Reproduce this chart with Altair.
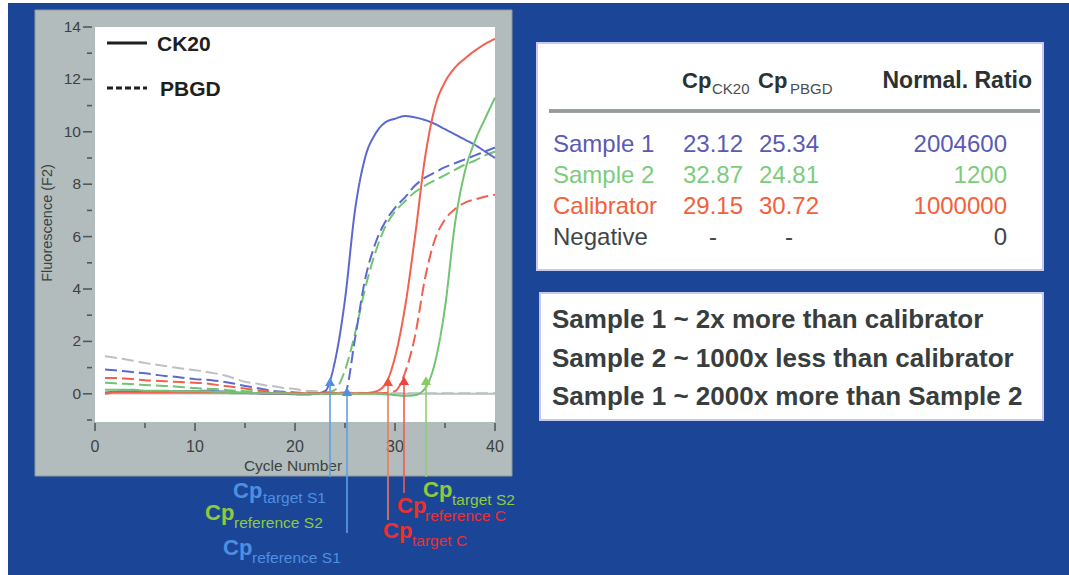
import altair as alt
import pandas as pd

# ---------------- data ----------------
cycles = list(range(1, 41))

s1_ck20 = [0.05, 0.08, 0.10, 0.10, 0.10, 0.10, 0.10, 0.10, 0.10, 0.10,
           0.12, 0.10, 0.08, 0.05, 0.03, 0.02, 0.00, 0.00, 0.00, -0.02,
           -0.03, 0.00, 0.10, 1.25, 3.60, 7.00, 9.00, 9.90, 10.35, 10.50,
           10.60, 10.55, 10.45, 10.30, 10.10, 9.90, 9.70, 9.50, 9.25, 9.00]
s1_pbgd = [0.93, 0.90, 0.86, 0.82, 0.78, 0.73, 0.68, 0.65, 0.60, 0.56,
           0.54, 0.50, 0.45, 0.38, 0.30, 0.24, 0.16, 0.10, 0.07, 0.05,
           0.03, 0.01, 0.00, 0.00, 0.05, 2.10, 4.35, 5.70, 6.55, 7.10,
           7.50, 7.95, 8.25, 8.45, 8.65, 8.80, 8.95, 9.10, 9.25, 9.40]
s2_ck20 = [0.15, 0.15, 0.15, 0.15, 0.12, 0.12, 0.12, 0.10, 0.10, 0.10,
           0.10, 0.08, 0.08, 0.05, 0.05, 0.03, 0.02, 0.02, 0.02, 0.00,
           0.00, 0.00, 0.00, 0.00, 0.00, 0.00, 0.00, 0.00, -0.02, -0.05,
           -0.08, -0.05, 0.20, 1.20, 3.30, 6.50, 8.50, 9.65, 10.50, 11.30]
s2_pbgd = [0.42, 0.40, 0.38, 0.36, 0.34, 0.32, 0.30, 0.28, 0.25, 0.22,
           0.20, 0.18, 0.15, 0.12, 0.10, 0.08, 0.05, 0.03, 0.02, 0.00,
           0.00, 0.00, 0.03, 0.15, 0.90, 2.30, 4.00, 5.35, 6.35, 6.95,
           7.35, 7.70, 7.95, 8.15, 8.35, 8.55, 8.75, 8.90, 9.10, 9.25]
cal_ck20 = [0.00, 0.05, 0.05, 0.05, 0.05, 0.05, 0.05, 0.05, 0.05, 0.05,
            0.05, 0.05, 0.05, 0.04, 0.03, 0.03, 0.02, 0.02, 0.02, 0.02,
            0.02, 0.02, 0.02, 0.02, 0.02, 0.02, 0.03, 0.08, 0.35, 1.40,
            3.30, 6.00, 9.00, 10.95, 11.90, 12.45, 12.80, 13.10, 13.35, 13.55]
cal_pbgd = [0.60, 0.60, 0.58, 0.55, 0.52, 0.50, 0.48, 0.46, 0.44, 0.42,
            0.40, 0.35, 0.30, 0.25, 0.20, 0.15, 0.10, 0.08, 0.05, 0.03,
            0.02, 0.02, 0.02, 0.02, 0.02, 0.02, 0.02, 0.02, 0.03, 0.10,
            0.80, 2.20, 4.40, 5.90, 6.65, 7.05, 7.30, 7.42, 7.52, 7.60]
neg_ck20 = [0.00, 0.01, 0.01, 0.01, 0.01, 0.01, 0.01, 0.01, 0.01, 0.01,
            0.01, 0.01, 0.01, 0.00, 0.00, 0.00, 0.00, 0.00, 0.00, 0.00,
            0.00, 0.00, 0.00, 0.00, 0.00, 0.00, 0.00, 0.00, 0.00, 0.00,
            0.00, 0.00, 0.00, 0.00, 0.00, 0.00, 0.00, 0.00, 0.00, 0.00]
neg_pbgd = [1.43, 1.38, 1.32, 1.25, 1.18, 1.12, 1.06, 1.00, 0.95, 0.90,
            0.85, 0.78, 0.70, 0.58, 0.46, 0.40, 0.33, 0.28, 0.22, 0.18,
            0.12, 0.10, 0.08, 0.06, 0.05, 0.04, 0.03, 0.03, 0.02, 0.02,
            0.02, 0.02, 0.02, 0.02, 0.02, 0.02, 0.02, 0.02, 0.02, 0.02]

series_names = ["Negative CK20", "Negative PBGD", "Sample 2 PBGD", "Sample 1 PBGD",
                "Calibrator PBGD", "Sample 1 CK20", "Calibrator CK20", "Sample 2 CK20"]
series_genes = ["CK20", "PBGD", "PBGD", "PBGD", "PBGD", "CK20", "CK20", "CK20"]
series_values = [neg_ck20, neg_pbgd, s2_pbgd, s1_pbgd, cal_pbgd, s1_ck20, cal_ck20, s2_ck20]
series_colors = ["#b9c1c1", "#b9c1c1", "#72c472", "#5b69cf", "#f2604f", "#5b69cf", "#f2604f", "#72c472"]

# Cp arrows (positions)
arrow_ids = ["target S1", "reference S1", "target C", "reference C", "target S2"]
arrow_cycles = [23.5, 25.2, 29.3, 30.9, 33.1]
arrow_levels = [0.46, 0.08, 0.46, 0.50, 0.50]
arrow_colors = ["#4f8fe0", "#4f8fe0", "#f2503c", "#f24040", "#86cc62"]
arrow_line_colors = ["#5d9fe6", "#5d9fe6", "#f0785c", "#f05a50", "#8fd070"]

# table
samples = ["Sample 1", "Sample 2", "Calibrator", "Negative"]
cp_ck20 = [23.12, 32.87, 29.15, None]
cp_pbgd = [25.34, 24.81, 30.72, None]
norm_ratio = [2004600, 1200, 1000000, 0]
row_colors = ["#5a5ab4", "#7ccc7c", "#f2603c", "#404646"]

conclusions = ["Sample 1 ~ 2x more than calibrator",
               "Sample 2 ~ 1000x less than calibrator",
               "Sample 1 ~ 2000x more than Sample 2"]

y_major = [0, 2, 4, 6, 8, 10, 12, 14]
y_minor = [-1, 1, 3, 5, 7, 9, 11, 13]
x_major = [0, 10, 20, 30, 40]
x_minor = [5, 15, 25, 35]

# ---------------- helpers ----------------
FONT = "Liberation Sans"
BLUE_BG = "#1b4698"
xscale = alt.Scale(domain=[0, 40], range=[95, 495])
yscale = alt.Scale(domain=[-1, 14], range=[420, 27])
one = pd.DataFrame({"t": [""]})


def rect(x1, y1, x2, y2, fill, stroke=None, sw=0):
    kw = dict(fill=fill)
    if stroke is not None:
        kw.update(stroke=stroke, strokeWidth=sw)
    return alt.Chart(one).mark_rect(**kw).encode(
        x=alt.value(x1), x2=alt.value(x2), y=alt.value(y1), y2=alt.value(y2))


def txt(s, x, y, size, color, weight="normal", align="left", baseline="alphabetic", angle=0):
    kw = dict(align=align, baseline=baseline, fontSize=size, color=color,
              fontWeight=weight, font=FONT)
    if angle:
        kw["angle"] = angle
    return alt.Chart(pd.DataFrame({"t": [s]})).mark_text(**kw).encode(
        x=alt.value(x), y=alt.value(y), text="t:N")


def hrule(x1, x2, y, color, sw, dash=None):
    kw = dict(color=color, strokeWidth=sw)
    if dash is not None:
        kw["strokeDash"] = dash
    return alt.Chart(one).mark_rule(**kw).encode(
        x=alt.value(x1), x2=alt.value(x2), y=alt.value(y))


layers = []
# backgrounds
layers.append(rect(8, 3, 1069, 575, BLUE_BG))
layers.append(rect(35, 10, 512, 476, "#b3bcbc", "#909a9a", 1))
layers.append(rect(95, 27, 495, 422, "#ffffff"))

# y axis ticks & labels
ymaj = pd.DataFrame({"v": y_major})
ymin = pd.DataFrame({"v": y_minor})
layers.append(alt.Chart(ymaj).mark_rule(color="#505858", strokeWidth=1.6).encode(
    y=alt.Y("v:Q", scale=yscale, axis=None), x=alt.value(83), x2=alt.value(92)))
layers.append(alt.Chart(ymin).mark_rule(color="#505858", strokeWidth=1.6).encode(
    y=alt.Y("v:Q", scale=yscale, axis=None), x=alt.value(87), x2=alt.value(92)))
layers.append(alt.Chart(ymaj).mark_text(align="right", baseline="middle", fontSize=15.5,
                                        color="#3c4242", font=FONT).encode(
    y=alt.Y("v:Q", scale=yscale, axis=None), x=alt.value(81), text="v:Q"))
# x axis ticks & labels
xmaj = pd.DataFrame({"v": x_major})
xmin = pd.DataFrame({"v": x_minor})
layers.append(alt.Chart(xmaj).mark_rule(color="#505858", strokeWidth=1.6).encode(
    x=alt.X("v:Q", scale=xscale, axis=None), y=alt.value(423), y2=alt.value(431)))
layers.append(alt.Chart(xmin).mark_rule(color="#505858", strokeWidth=1.6).encode(
    x=alt.X("v:Q", scale=xscale, axis=None), y=alt.value(423), y2=alt.value(428)))
layers.append(alt.Chart(xmaj).mark_text(align="center", baseline="middle", fontSize=16,
                                        color="#3c4242", font=FONT).encode(
    x=alt.X("v:Q", scale=xscale, axis=None), y=alt.value(447), text="v:Q"))
layers.append(txt("Cycle Number", 293, 466, 15.5, "#3c4242", baseline="middle", align="center"))
layers.append(txt("Fluorescence (F2)", 48, 223, 14.5, "#3c4242", baseline="middle",
                  align="center", angle=270))

# legend inside plot
layers.append(hrule(107, 147, 43, "#1e1e1e", 3))
layers.append(txt("CK20", 157, 51, 21, "#1e1e1e", weight="bold"))
layers.append(hrule(107, 147, 88, "#1e1e1e", 3, dash=[6, 3]))
layers.append(txt("PBGD", 160, 96, 21, "#1e1e1e", weight="bold"))

# curves
rows = []
for name, gene, vals in zip(series_names, series_genes, series_values):
    for c, v in zip(cycles, vals):
        rows.append({"series": name, "gene": gene, "cycle": c, "value": v})
curves = pd.DataFrame(rows)
layers.append(alt.Chart(curves).mark_line(strokeWidth=2, interpolate="monotone").encode(
    x=alt.X("cycle:Q", scale=xscale, axis=None),
    y=alt.Y("value:Q", scale=yscale, axis=None),
    color=alt.Color("series:N", scale=alt.Scale(domain=series_names, range=series_colors), legend=None),
    strokeDash=alt.StrokeDash("gene:N", scale=alt.Scale(domain=["CK20", "PBGD"],
                                                        range=[[1, 0], [12, 5]]), legend=None),
    detail="series:N",
    order=alt.Order("cycle:Q"),
))

# Cp arrows: vertical lines then triangles
arrow_ends = [477, 533, 520, 493, 477]
for aid, c, lv, col, end in zip(arrow_ids, arrow_cycles, arrow_levels, arrow_line_colors, arrow_ends):
    d = pd.DataFrame({"cycle": [c], "level": [lv]})
    layers.append(alt.Chart(d).mark_rule(color=col, strokeWidth=1.6).encode(
        x=alt.X("cycle:Q", scale=xscale, axis=None),
        y=alt.Y("level:Q", scale=yscale, axis=None),
        y2=alt.value(end)))
arr = pd.DataFrame({"id": arrow_ids, "cycle": arrow_cycles, "level": arrow_levels})
layers.append(alt.Chart(arr).mark_point(shape="triangle-up", filled=True, size=100, opacity=1).encode(
    x=alt.X("cycle:Q", scale=xscale, axis=None),
    y=alt.Y("level:Q", scale=yscale, axis=None),
    color=alt.Color("id:N", scale=alt.Scale(domain=arrow_ids, range=arrow_colors), legend=None)))

# Cp labels below the plot
BLUE_L, GREEN_L, RED_L = "#4d8fe0", "#8fca3e", "#ee2e30"
cp_labels = [
    ("target S1", 233, 498, 263, 503, BLUE_L),
    ("reference S2", 205, 520, 234, 528, GREEN_L),
    ("reference S1", 223, 555, 252, 563, BLUE_L),
    ("target S2", 423, 497, 452, 505, GREEN_L),
    ("reference C", 397, 513, 425, 521, RED_L),
    ("target C", 383, 538, 412, 546, RED_L),
]
for sub, mx, my, sx, sy, col in cp_labels:
    layers.append(txt("Cp", mx, my, 22, col, weight="bold"))
    layers.append(txt(sub, sx, sy, 15.5, col))

# results table
layers.append(rect(537, 43, 1043, 270, "#ffffff", "#c9c9ee", 2))
HEAD = "#2c3232"
layers.append(txt("Cp", 682, 88, 22, HEAD, weight="bold"))
layers.append(txt("CK20", 712, 94, 15, "#485050"))
layers.append(txt("Cp", 758, 88, 22, HEAD, weight="bold"))
layers.append(txt("PBGD", 790, 94, 15, "#485050"))
layers.append(txt("Normal. Ratio", 1032, 88, 23, HEAD, weight="bold", align="right"))
layers.append(hrule(549, 1040, 111, "#7c8484", 3.5))
layers.append(hrule(549, 1040, 111, "#aab2b2", 1))

tbl = pd.DataFrame({
    "sample": samples,
    "ck20": [f"{v:.2f}" if v is not None else "-" for v in cp_ck20],
    "pbgd": [f"{v:.2f}" if v is not None else "-" for v in cp_pbgd],
    "ratio": [str(v) for v in norm_ratio],
})
row_scale = alt.Scale(domain=samples, range=[152, 245], padding=0)
row_color = alt.Color("sample:N", scale=alt.Scale(domain=samples, range=row_colors), legend=None)
for field, xpos, align in [("sample", 553, "left"), ("ck20", 713, "center"),
                           ("pbgd", 789, "center"), ("ratio", 1007, "right")]:
    layers.append(alt.Chart(tbl).mark_text(align=align, baseline="alphabetic", fontSize=24,
                                           font=FONT).encode(
        y=alt.Y("sample:N", scale=row_scale, axis=None),
        x=alt.value(xpos),
        text=f"{field}:N",
        color=row_color))

# conclusions box
layers.append(rect(540, 293, 1043, 420, "#ffffff", "#c9c9ee", 2))
cdf = pd.DataFrame({"line": conclusions})
layers.append(alt.Chart(cdf).mark_text(align="left", baseline="alphabetic", fontSize=26,
                                       fontWeight="bold", font=FONT, color="#383e3e").encode(
    y=alt.Y("line:N", scale=alt.Scale(domain=conclusions, range=[328, 405], padding=0), axis=None),
    x=alt.value(552),
    text="line:N"))

chart = alt.layer(*layers).resolve_scale(
    x="independent", y="independent", color="independent", strokeDash="independent"
).properties(
    width=1069, height=575, padding=0,
    autosize=alt.AutoSizeParams(type="none"),
    background="#ffffff",
).configure_view(strokeWidth=0)

chart.save("out.html", embed_options={"renderer": "svg", "actions": False})
